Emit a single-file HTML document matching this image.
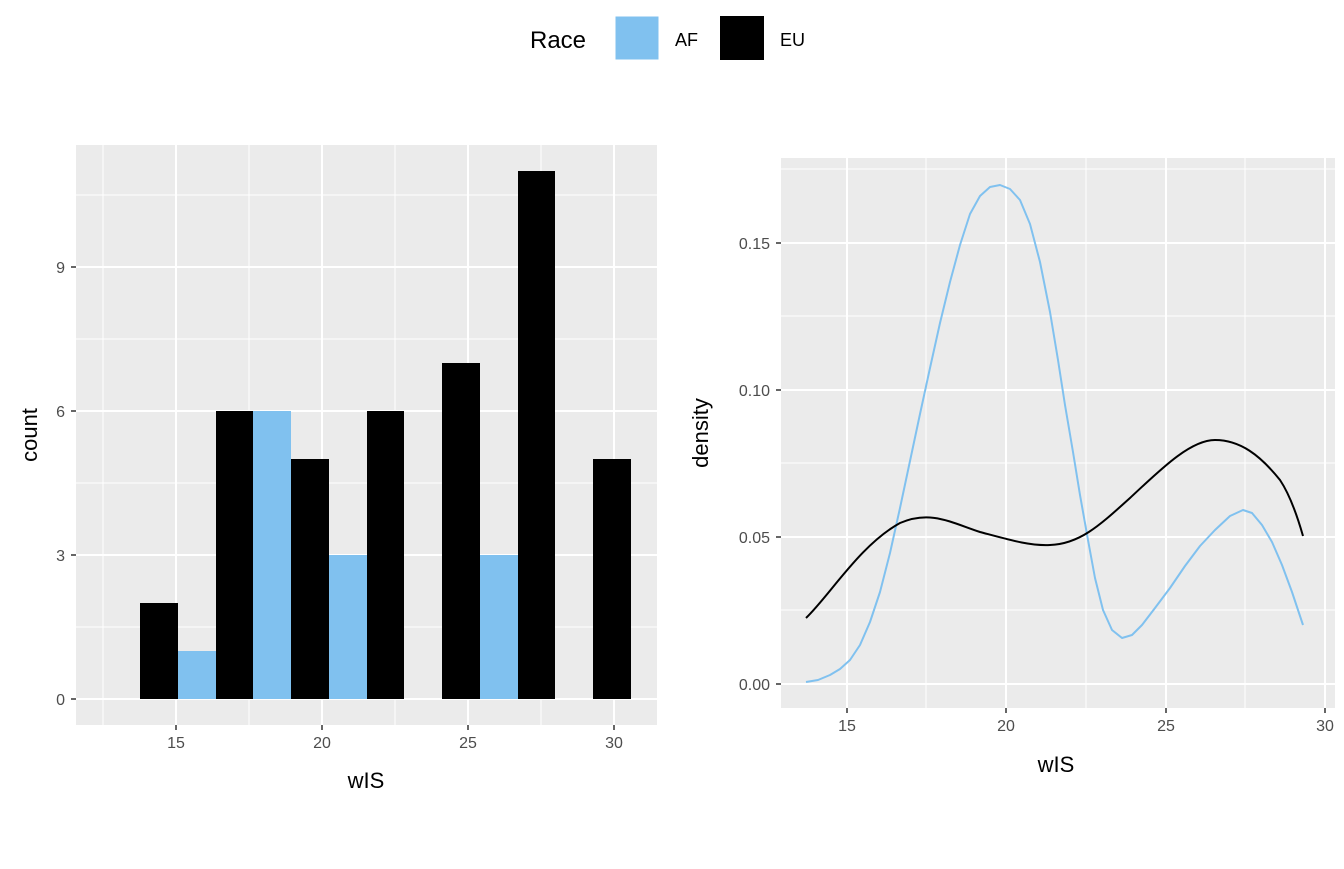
<!DOCTYPE html>
<html><head><style>body{margin:0;background:#fff}svg text{font-family:"Liberation Sans",Arial,sans-serif}</style></head>
<body>
<svg width="1344" height="864" xmlns="http://www.w3.org/2000/svg">
<rect width="1344" height="864" fill="#fff"/>
<!-- legend -->
<text x="530" y="48" font-size="24" fill="#000">Race</text>
<rect x="615" y="16" width="44" height="44" fill="#80C1EF" stroke="#fff"/>
<text x="675" y="46" font-size="18">AF</text>
<rect x="720" y="16" width="44" height="44" fill="#000"/>
<text x="780" y="46" font-size="18">EU</text>

<!-- left panel -->
<rect x="76" y="145" width="581" height="580" fill="#EBEBEB"/>
<g stroke="#fff" stroke-width="1">
<line x1="76" x2="657" y1="627" y2="627"/><line x1="76" x2="657" y1="483" y2="483"/><line x1="76" x2="657" y1="339" y2="339"/><line x1="76" x2="657" y1="195" y2="195"/>
<line x1="103" x2="103" y1="145" y2="725"/><line x1="249" x2="249" y1="145" y2="725"/><line x1="395" x2="395" y1="145" y2="725"/><line x1="541" x2="541" y1="145" y2="725"/>
</g>
<g stroke="#fff" stroke-width="2">
<line x1="76" x2="657" y1="699" y2="699"/><line x1="76" x2="657" y1="555" y2="555"/><line x1="76" x2="657" y1="411" y2="411"/><line x1="76" x2="657" y1="267" y2="267"/>
<line x1="176" x2="176" y1="145" y2="725"/><line x1="322" x2="322" y1="145" y2="725"/><line x1="468" x2="468" y1="145" y2="725"/><line x1="614" x2="614" y1="145" y2="725"/>
</g>
<g fill="#000">
<rect x="140" y="603" width="38" height="96"/>
<rect x="216" y="411" width="37" height="288"/>
<rect x="291" y="459" width="38" height="240"/>
<rect x="367" y="411" width="37" height="288"/>
<rect x="442" y="363" width="38" height="336"/>
<rect x="518" y="171" width="37" height="528"/>
<rect x="593" y="459" width="38" height="240"/>
</g>
<g fill="#80C1EF">
<rect x="178" y="651" width="38" height="48"/>
<rect x="253" y="411" width="38" height="288"/>
<rect x="329" y="555" width="38" height="144"/>
<rect x="480" y="555" width="38" height="144"/>
</g>
<g stroke="#333" stroke-width="1.5">
<line x1="71" x2="76" y1="699" y2="699"/><line x1="71" x2="76" y1="555" y2="555"/><line x1="71" x2="76" y1="411" y2="411"/><line x1="71" x2="76" y1="267" y2="267"/>
<line x1="176" x2="176" y1="725" y2="730"/><line x1="322" x2="322" y1="725" y2="730"/><line x1="468" x2="468" y1="725" y2="730"/><line x1="614" x2="614" y1="725" y2="730"/>
</g>
<g font-size="16" fill="#4D4D4D" text-anchor="end">
<text x="65" y="705">0</text><text x="65" y="561">3</text><text x="65" y="417">6</text><text x="65" y="273">9</text>
</g>
<g font-size="16" fill="#4D4D4D" text-anchor="middle">
<text x="176" y="748">15</text><text x="322" y="748">20</text><text x="468" y="748">25</text><text x="614" y="748">30</text>
</g>
<text x="366" y="788" font-size="22" text-anchor="middle">wIS</text>
<text transform="translate(37,435) rotate(-90)" font-size="22" text-anchor="middle">count</text>

<!-- right panel -->
<rect x="781" y="158" width="554" height="550" fill="#EBEBEB"/>
<g stroke="#fff" stroke-width="1">
<line x1="781" x2="1335" y1="610" y2="610"/><line x1="781" x2="1335" y1="463" y2="463"/><line x1="781" x2="1335" y1="316" y2="316"/><line x1="781" x2="1335" y1="169" y2="169"/>
<line x1="926" x2="926" y1="158" y2="708"/><line x1="1086" x2="1086" y1="158" y2="708"/><line x1="1245" x2="1245" y1="158" y2="708"/>
</g>
<g stroke="#fff" stroke-width="2">
<line x1="781" x2="1335" y1="684" y2="684"/><line x1="781" x2="1335" y1="537" y2="537"/><line x1="781" x2="1335" y1="390" y2="390"/><line x1="781" x2="1335" y1="243" y2="243"/>
<line x1="847" x2="847" y1="158" y2="708"/><line x1="1006" x2="1006" y1="158" y2="708"/><line x1="1166" x2="1166" y1="158" y2="708"/><line x1="1325" x2="1325" y1="158" y2="708"/>
</g>
<polyline points="806,682 818,680 830,675 840,669 850,660 860,645 870,622 880,592 890,553 900,508 910,461 920,414 930,368 940,323 950,282 960,245 970,214 980,196 990,187 1000,185 1010,189 1020,200 1030,224 1040,262 1050,312 1058,360 1065,405 1073,452 1080,495 1088,540 1095,578 1103,610 1112,630 1122,638 1132,635 1142,625 1155,608 1170,588 1185,566 1200,546 1215,530 1230,516 1243,510 1252,513 1262,525 1272,542 1282,565 1292,592 1303,625" fill="none" stroke="#80C1EF" stroke-width="2" stroke-linejoin="round"/>
<path d="M806,618 C830,595 860,545 900,523 C930,510 950,522 980,532 C1010,540 1030,546 1050,545 C1080,544 1100,525 1130,498 C1160,470 1190,440 1215,440 C1240,440 1260,455 1280,480 C1290,495 1297,515 1303,536" fill="none" stroke="#000" stroke-width="2"/>
<g stroke="#333" stroke-width="1.5">
<line x1="776" x2="781" y1="684" y2="684"/><line x1="776" x2="781" y1="537" y2="537"/><line x1="776" x2="781" y1="390" y2="390"/><line x1="776" x2="781" y1="243" y2="243"/>
<line x1="847" x2="847" y1="708" y2="713"/><line x1="1006" x2="1006" y1="708" y2="713"/><line x1="1166" x2="1166" y1="708" y2="713"/><line x1="1325" x2="1325" y1="708" y2="713"/>
</g>
<g font-size="16" fill="#4D4D4D" text-anchor="end">
<text x="770" y="690">0.00</text><text x="770" y="543">0.05</text><text x="770" y="396">0.10</text><text x="770" y="249">0.15</text>
</g>
<g font-size="16" fill="#4D4D4D" text-anchor="middle">
<text x="847" y="731">15</text><text x="1006" y="731">20</text><text x="1166" y="731">25</text><text x="1325" y="731">30</text>
</g>
<text x="1056" y="772" font-size="22" text-anchor="middle">wIS</text>
<text transform="translate(708,433) rotate(-90)" font-size="22" text-anchor="middle">density</text>
</svg>
</body></html>
